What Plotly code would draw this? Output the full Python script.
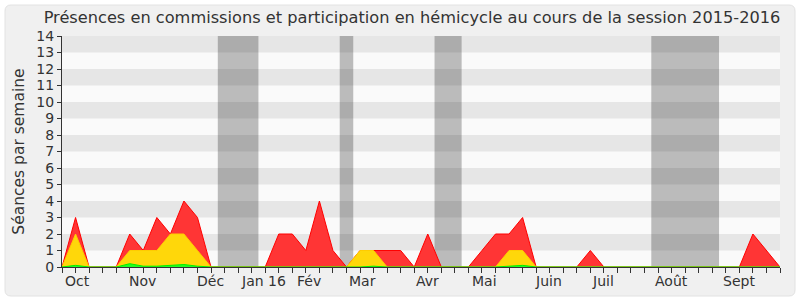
import plotly.graph_objects as go

weeks = list(range(54))
red_vals = [0, 3, 0, 0, 0, 2, 1, 3, 2, 4, 3, 0, 0, 0, 0, 0, 2, 2, 1, 4, 1, 0,
            1, 1, 1, 1, 0, 2, 0, 0, 0, 1, 2, 2, 3, 0, 0, 0, 0, 1, 0, 0, 0, 0,
            0, 0, 0, 0, 0, 0, 0, 2, 1, 0]
yellow_vals = [0, 2, 0, 0, 0, 1, 1, 1, 2, 2, 1, 0, 0, 0, 0, 0, 0, 0, 0, 0, 0, 0,
               1, 1, 0, 0, 0, 0, 0, 0, 0, 0, 0, 1, 1, 0, 0, 0, 0, 0, 0, 0, 0, 0,
               0, 0, 0, 0, 0, 0, 0, 0, 0, 0]
green_vals = [0, 0.1, 0, 0, 0, 0.2, 0.05, 0.05, 0.1, 0.15, 0.05, 0, 0, 0, 0, 0, 0, 0, 0, 0, 0, 0,
              0, 0.05, 0, 0, 0, 0, 0, 0, 0, 0, 0, 0.05, 0.1, 0, 0, 0, 0, 0, 0, 0, 0, 0,
              0, 0, 0, 0, 0, 0, 0, 0, 0, 0]

month_labels = ["Oct", "Nov", "Déc", "Jan 16", "Fév", "Mar", "Avr", "Mai",
                "Juin", "Juil", "Août", "Sept"]
month_pos = [1.13, 5.93, 10.95, 14.9, 18.2, 22.2, 26.96, 31.2, 35.9, 39.95, 45.0, 50.0]

vacances = [(11.5, 14.5), (20.5, 21.5), (27.5, 29.5), (43.5, 48.5)]

y_max = 14
x_max = 53

fig = go.Figure()
fig.add_trace(go.Scatter(x=weeks, y=red_vals, mode="lines", fill="tozeroy",
                         line=dict(color="#ff0000", width=1), fillcolor="#ff3535",
                         hoverinfo="skip"))
fig.add_trace(go.Scatter(x=weeks, y=yellow_vals, mode="lines", fill="tozeroy",
                         line=dict(color="#ffcc00", width=1), fillcolor="#ffd70a",
                         hoverinfo="skip"))
fig.add_trace(go.Scatter(x=weeks, y=green_vals, mode="lines", fill="tozeroy",
                         line=dict(color="#00ee00", width=1), fillcolor="#22ff22",
                         hoverinfo="skip"))

shapes = []
# outer rounded panel (paper coords)
L, R, T, B = 62, 780, 36, 267
W, H = R - L, B - T
def px(x):
    return (x - L) / W
def py(y):
    return (B - y) / H
x0, x1, y0, y1, r = 5, 795, 5, 296, 6
path = (f"M {px(x0+r)},{py(y0)} L {px(x1-r)},{py(y0)} Q {px(x1)},{py(y0)} {px(x1)},{py(y0+r)} "
        f"L {px(x1)},{py(y1-r)} Q {px(x1)},{py(y1)} {px(x1-r)},{py(y1)} "
        f"L {px(x0+r)},{py(y1)} Q {px(x0)},{py(y1)} {px(x0)},{py(y1-r)} "
        f"L {px(x0)},{py(y0+r)} Q {px(x0)},{py(y0)} {px(x0+r)},{py(y0)} Z")
shapes.append(dict(type="path", path=path, xref="paper", yref="paper",
                   fillcolor="#f0f0f0", line=dict(color="#e2e2e2", width=1), layer="below"))
# plot background
shapes.append(dict(type="rect", xref="x", yref="y", x0=0, x1=x_max, y0=0, y1=y_max,
                   fillcolor="#fafafa", line=dict(width=0), layer="below"))
for k in range(1, y_max, 2):
    shapes.append(dict(type="rect", xref="x", yref="y", x0=0, x1=x_max, y0=k, y1=k + 1,
                       fillcolor="#e6e6e6", line=dict(width=0), layer="below"))
for a, b in vacances:
    shapes.append(dict(type="rect", xref="x", yref="y", x0=a, x1=b, y0=0, y1=y_max,
                       fillcolor="rgba(0,0,0,0.25)", line=dict(width=0), layer="below"))

annotations = []
for lab, pos in zip(month_labels, month_pos):
    annotations.append(dict(x=pos, y=-0.062, xref="x", yref="paper", text=lab,
                            showarrow=False, xanchor="center", yanchor="middle",
                            font=dict(family="DejaVu Sans", size=14, color="#333333")))

fig.update_layout(
    width=800, height=300,
    margin=dict(l=L, r=800 - R, t=T, b=300 - B),
    paper_bgcolor="#ffffff",
    plot_bgcolor="rgba(0,0,0,0)",
    showlegend=False,
    title=dict(text="Présences en commissions et participation en hémicycle au cours de la session 2015-2016",
               x=0.515, xanchor="center", xref="container",
               y=1 - 17 / 300, yanchor="middle", yref="container",
               font=dict(family="DejaVu Sans", size=16.2, color="#333333")),
    shapes=shapes,
    annotations=annotations,
    xaxis=dict(range=[0, x_max], tickvals=weeks, ticktext=[""] * len(weeks),
               ticks="outside", ticklen=5, tickcolor="#333333", tickwidth=1,
               showline=True, linecolor="#333333", linewidth=1,
               showgrid=False, zeroline=False, fixedrange=True),
    yaxis=dict(range=[0, y_max], dtick=1, ticks="outside", ticklen=4,
               tickcolor="#333333", showline=True, linecolor="#333333", linewidth=1,
               showgrid=False, zeroline=False,
               tickfont=dict(family="DejaVu Sans", size=14, color="#333333"),
               title=dict(text="Séances par semaine", standoff=7,
                          font=dict(family="DejaVu Sans", size=15.5, color="#333333"))),
)

fig.write_html("out.html")
